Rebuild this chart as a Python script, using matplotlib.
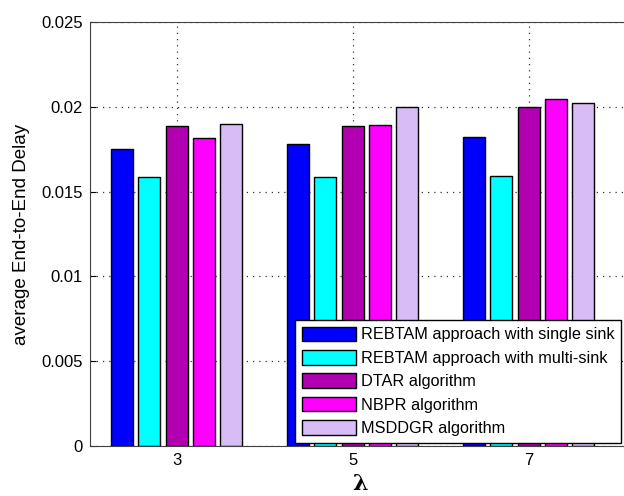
import numpy as np
import matplotlib
matplotlib.use("Agg")
import matplotlib.pyplot as plt

plt.rcParams['font.family'] = ['Liberation Sans', 'DejaVu Sans']

lambdas = [3, 5, 7]
series_names = [
    "REBTAM approach with single sink",
    "REBTAM approach with multi-sink",
    "DTAR algorithm",
    "NBPR algorithm",
    "MSDDGR algorithm",
]
single_sink = [0.01753, 0.01783, 0.01822]
multi_sink = [0.01586, 0.01586, 0.01594]
dtar = [0.01887, 0.01887, 0.01997]
nbpr = [0.01814, 0.01893, 0.02046]
msddgr = [0.01900, 0.01997, 0.02024]
colors = ["#0000ff", "#00ffff", "#b000b0", "#ff00ff", "#d8bcf6"]

values = [single_sink, multi_sink, dtar, nbpr, msddgr]

fig = plt.figure(figsize=(6.24, 4.96), dpi=100)
ax = fig.add_axes([90 / 624, 1 - 446 / 496, (630 - 90) / 624, (446 - 22) / 496])

x = np.array(lambdas, dtype=float)
step = 0.31
width = 0.25
for i, (vals, name, c) in enumerate(zip(values, series_names, colors)):
    ax.bar(x + (i - 2) * step, vals, width, color=c, edgecolor="black",
           linewidth=1.0, label=name, zorder=2)

ax.set_xlim(2.015, 8.15)
ax.set_ylim(0, 0.025)
ax.set_xticks(lambdas)
ax.set_yticks([0, 0.005, 0.01, 0.015, 0.02, 0.025])
ax.set_yticklabels(["0", "0.005", "0.01", "0.015", "0.02", "0.025"])
ax.tick_params(direction="in", labelsize=12, length=4, pad=5)
ax.grid(True, linestyle=(0, (1, 4)), color="#333333", linewidth=0.9, zorder=1)
ax.set_axisbelow(True)
for s in ax.spines.values():
    s.set_color("#404040")
ax.spines["right"].set_visible(False)

ax.set_ylabel("average End-to-End Delay", fontsize=13.5, labelpad=8)
ax.set_xlabel("λ", fontsize=16, fontweight="bold", family="DejaVu Serif", labelpad=4)

leg = ax.legend(loc="upper left", bbox_to_anchor=(295 / 624, 1 - 320 / 496),
                bbox_transform=fig.transFigure, borderaxespad=0,
                fontsize=11.7, frameon=True, fancybox=False,
                handlelength=3.35, handleheight=1.0, handletextpad=0.3,
                labelspacing=0.47, borderpad=0.4)
leg.get_frame().set_edgecolor("black")
leg.get_frame().set_linewidth(1.0)
leg.get_frame().set_alpha(1)

fig.savefig("out.png", dpi=100)
